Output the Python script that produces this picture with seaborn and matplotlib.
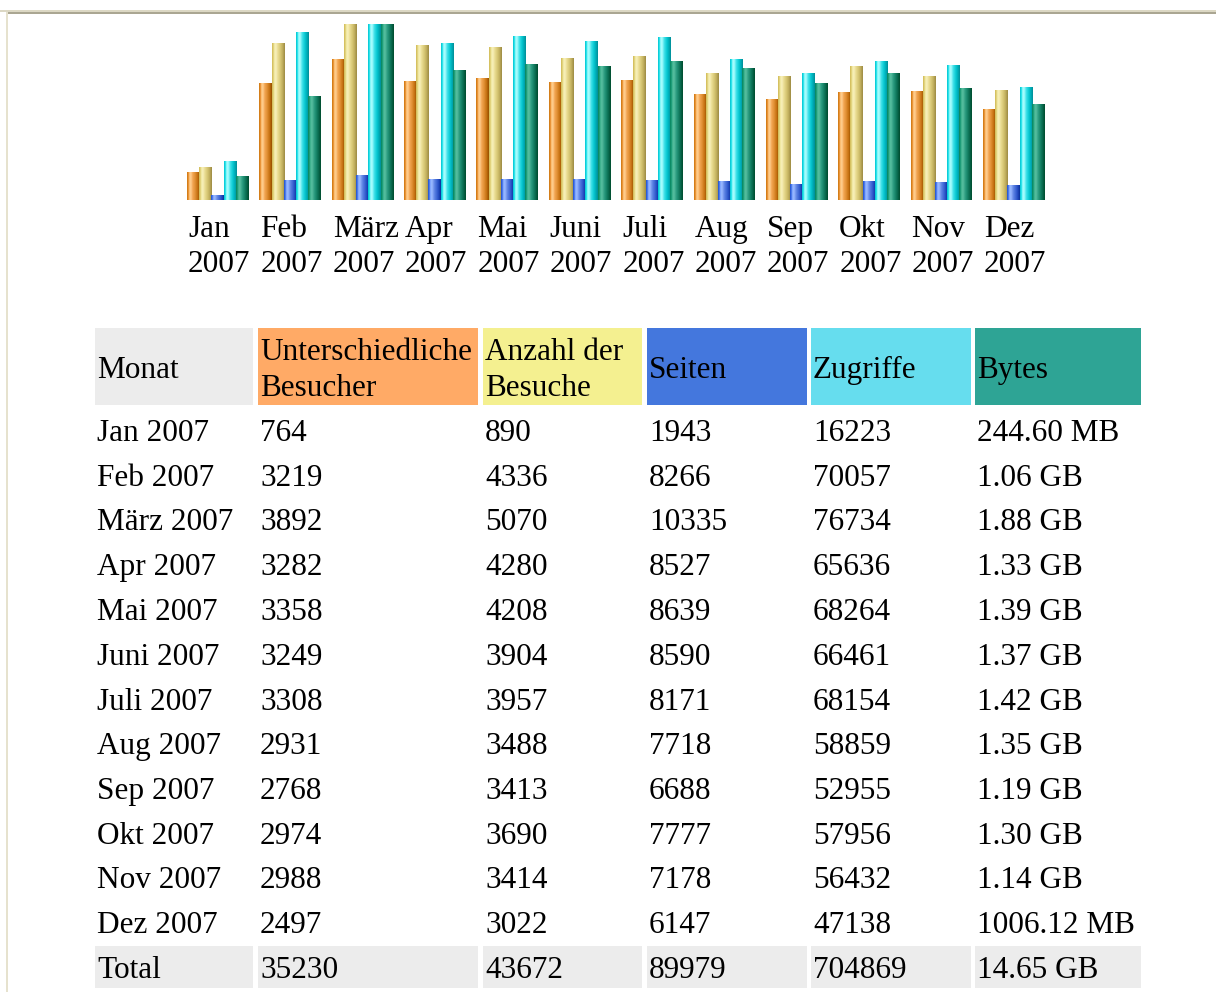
import numpy as np
import pandas as pd
import matplotlib
matplotlib.use("Agg")
import matplotlib.pyplot as plt
import matplotlib.transforms as mtransforms
import seaborn as sns
from matplotlib.colors import LinearSegmentedColormap
from matplotlib.patches import Rectangle

# ---------------- data ----------------
months = ["Jan", "Feb", "März", "Apr", "Mai", "Juni", "Juli", "Aug", "Sep", "Okt", "Nov", "Dez"]
year = "2007"
visitors = [764, 3219, 3892, 3282, 3358, 3249, 3308, 2931, 2768, 2974, 2988, 2497]
visits = [890, 4336, 5070, 4280, 4208, 3904, 3957, 3488, 3413, 3690, 3414, 3022]
pages = [1943, 8266, 10335, 8527, 8639, 8590, 8171, 7718, 6688, 7777, 7178, 6147]
hits = [16223, 70057, 76734, 65636, 68264, 66461, 68154, 58859, 52955, 57956, 56432, 47138]
bytes_labels = ["244.60 MB", "1.06 GB", "1.88 GB", "1.33 GB", "1.39 GB", "1.37 GB",
                "1.42 GB", "1.35 GB", "1.19 GB", "1.30 GB", "1.14 GB", "1006.12 MB"]
totals = ["35230", "43672", "89979", "704869", "14.65 GB"]
headers = ["Monat", "Unterschiedliche\nBesucher", "Anzahl der\nBesuche", "Seiten", "Zugriffe", "Bytes"]
header_colors = ["#ececec", "#ffaa66", "#f4f090", "#4477dd", "#66ddee", "#2ea495"]
series = ["u", "v", "p", "h", "k"]

grad_colors = {
    "u": ["#cc760e", "#e89234", "#fcc27a", "#ffd092", "#f6b062", "#eea04a",
          "#e4943a", "#d68426", "#c87416", "#b06208", "#985000"],
    "v": ["#d0ba56", "#e2d27c", "#f2eaa8", "#f8f0bc", "#eee29e", "#e6d88c",
          "#dccc7c", "#d0c06c", "#c2b060", "#b09e52", "#9e8c44"],
    "p": ["#1e50d0", "#4a78e8", "#86aaff", "#9cbcff", "#7c9cf0", "#6288e6",
          "#4c74dc", "#3a62d2", "#2850c4", "#1a40b0", "#08309c"],
    "h": ["#00c4d0", "#28e2ea", "#8ef8fa", "#b0ffff", "#70eef2", "#40e0e8",
          "#20d4dc", "#08c6d0", "#00b4be", "#00a2ac", "#008e98"],
    "k": ["#06845c", "#1c9c78", "#44b492", "#58c0a2", "#40ac8e", "#2c9c80",
          "#1e8c70", "#127c60", "#0a6c50", "#045c40", "#004c2e"],
}

def to_mb(label):
    num, unit = label.split()
    return float(num) * (1024.0 if unit == "GB" else 1.0)

bytes_mb = [to_mb(b) for b in bytes_labels]

# AWStats style scaling: visitors/visits share max(visits), pages/hits share max(hits)
max_v = max(visits)
max_h = max(hits)
max_k = max(bytes_mb)
norm = {
    "u": [v / max_v for v in visitors],
    "v": [v / max_v for v in visits],
    "p": [v / max_h for v in pages],
    "h": [v / max_h for v in hits],
    "k": [v / max_k for v in bytes_mb],
}
rows = []
for s in series:
    for m, val in zip(months, norm[s]):
        rows.append({"month": m, "series": s, "value": val})
df = pd.DataFrame(rows)

# ---------------- figure ----------------
sns.set_style("white")
plt.rcParams["font.family"] = ["Liberation Serif", "DejaVu Serif"]
plt.rcParams["text.color"] = "black"
plt.rcParams["xtick.color"] = "black"

W, H = 1216, 992
fig = plt.figure(figsize=(W / 100, H / 100), dpi=100)
fig.patch.set_facecolor("white")

def fx(x):
    return x / W

def fy(y):
    return 1 - y / H

# frame lines (top and left)
fig.add_artist(Rectangle((0, fy(12)), 1, 2 / H, transform=fig.transFigure,
                         facecolor="#dcd8c4", edgecolor="none"))
fig.add_artist(Rectangle((fx(7), fy(14)), 1, 2 / H, transform=fig.transFigure,
                         facecolor="#aaa692", edgecolor="none"))
fig.add_artist(Rectangle((fx(6), 0), 2 / W, fy(12), transform=fig.transFigure,
                         facecolor="#e6e2ce", edgecolor="none"))

pitch_px = 72.36
ax_left = 217.5 - 0.5 * pitch_px
ax_right = 217.5 + 11.5 * pitch_px
ax = fig.add_axes([fx(ax_left), fy(200), (ax_right - ax_left) / W, 176 / H])
palette = dict(zip(series, [grad_colors[s][5] for s in series]))
sns.barplot(data=df, x="month", y="value", hue="series", hue_order=series,
            order=months, palette=palette, width=61 / pitch_px, gap=0, saturation=1,
            dodge=True, legend=False, errorbar=None, ax=ax, linewidth=0)

# cylinder-like shading of every bar
grad = np.linspace(0, 1, 120).reshape(1, -1)
for cont, s in zip(ax.containers, series):
    cmap = LinearSegmentedColormap.from_list("g_" + s, grad_colors[s])
    for patch in cont.patches:
        x0 = patch.get_x()
        w = patch.get_width()
        h = patch.get_height()
        ax.imshow(grad, extent=[x0, x0 + w, 0, h], aspect="auto", cmap=cmap,
                  interpolation="nearest", zorder=patch.get_zorder() + 0.1)

ax.set_xlim(-0.5, 11.5)
ax.set_ylim(0, 0.96)
for sp in ax.spines.values():
    sp.set_visible(False)
ax.set_yticks([])
ax.set_xlabel("")
ax.set_ylabel("")
ax.set_xticks(range(len(months)))
ax.set_xticklabels([f"{m}\n{year}" for m in months])
ax.tick_params(axis="x", length=0, pad=10.5, labelsize=22.5, colors="black")
shift = mtransforms.ScaledTranslation(-29.5 / 100, 0, fig.dpi_scale_trans)
for lab in ax.get_xticklabels():
    lab.set_linespacing(1.31)
    lab.set_horizontalalignment("left")
    lab.set_multialignment("left")
    lab.set_transform(lab.get_transform() + shift)

# ---------------- table ----------------
col_x = [(95, 253), (258, 478), (483, 642), (647, 807), (811, 971), (975, 1141)]
fs = 22.5

# header
for (x0, x1), c, txt in zip(col_x, header_colors, headers):
    fig.add_artist(Rectangle((fx(x0), fy(405)), (x1 - x0) / W, (405 - 328) / H,
                             transform=fig.transFigure, facecolor=c, edgecolor="none"))
    lines = txt.split("\n")
    if len(lines) == 1:
        fig.text(fx(x0 + 2), fy(377.5), lines[0], fontsize=fs, va="baseline", ha="left")
    else:
        fig.text(fx(x0 + 2), fy(359.5), lines[0], fontsize=fs, va="baseline", ha="left")
        fig.text(fx(x0 + 2), fy(395.5), lines[1], fontsize=fs, va="baseline", ha="left")

# body rows
row_base0 = 441
pitch = 44.75
for i, m in enumerate(months):
    yb = row_base0 + i * pitch
    vals = [f"{m} {year}", str(visitors[i]), str(visits[i]), str(pages[i]),
            str(hits[i]), bytes_labels[i]]
    for (x0, x1), v in zip(col_x, vals):
        fig.text(fx(x0 + 2), fy(yb), v, fontsize=fs, va="baseline", ha="left")

# total row
yb = row_base0 + 12 * pitch
for (x0, x1), v in zip(col_x, ["Total"] + totals):
    fig.add_artist(Rectangle((fx(x0), fy(988)), (x1 - x0) / W, (988 - 946) / H,
                             transform=fig.transFigure, facecolor="#ececec", edgecolor="none"))
    fig.text(fx(x0 + 2), fy(yb), v, fontsize=fs, va="baseline", ha="left")

fig.savefig("out.png", dpi=100, facecolor="white")
